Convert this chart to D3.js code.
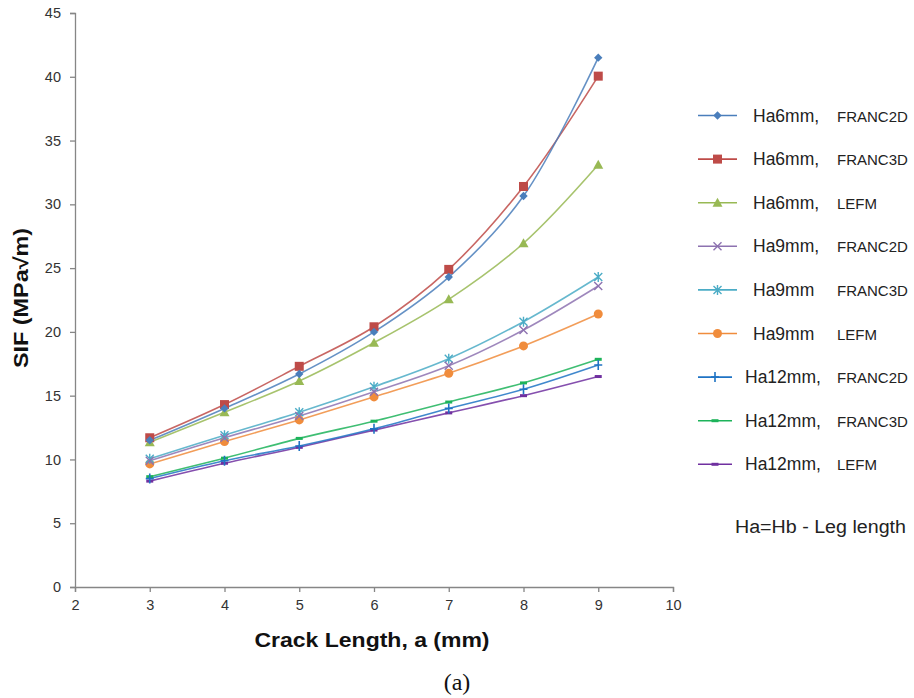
<!DOCTYPE html>
<html><head><meta charset="utf-8">
<script src="https://cdn.jsdelivr.net/npm/d3@7/dist/d3.min.js"></script>
<style>body{margin:0;background:#fff}svg{display:block}</style>
</head><body>
<svg id="c" width="914" height="698"></svg>
<script>
const crackLength = [3, 4, 5, 6, 7, 8, 9];
const ha6Franc2d = [11.5, 14.0, 16.7, 20.0, 24.3, 30.65, 41.5];
const ha6Franc3d = [11.7, 14.3, 17.3, 20.4, 24.9, 31.4, 40.05];
const ha6Lefm    = [11.35, 13.7, 16.15, 19.15, 22.55, 26.95, 33.1];
const ha9Franc2d = [9.9, 11.7, 13.4, 15.3, 17.35, 20.15, 23.6];
const ha9Franc3d = [10.05, 11.9, 13.7, 15.7, 17.9, 20.8, 24.3];
const ha9Lefm    = [9.65, 11.4, 13.1, 14.9, 16.75, 18.9, 21.4];
const ha12Franc2d = [8.5, 9.9, 11.05, 12.4, 14.0, 15.5, 17.4];
const ha12Franc3d = [8.65, 10.1, 11.65, 13.0, 14.5, 16.0, 17.85];
const ha12Lefm    = [8.3, 9.7, 10.95, 12.3, 13.65, 15.0, 16.5];
const xTicks = [2, 3, 4, 5, 6, 7, 8, 9, 10];
const yTicks = [0, 5, 10, 15, 20, 25, 30, 35, 40, 45];
const seriesNames = ["Ha6mm,", "Ha6mm,", "Ha6mm,", "Ha9mm,", "Ha9mm", "Ha9mm", "Ha12mm,", "Ha12mm,", "Ha12mm,"];
const seriesMethods = ["FRANC2D", "FRANC3D", "LEFM", "FRANC2D", "FRANC3D", "LEFM", "FRANC2D", "FRANC3D", "LEFM"];

const series = [
  {values: ha6Franc2d, color: "#4A7EBB", marker: "diamond"},
  {values: ha6Franc3d, color: "#BE4B48", marker: "square"},
  {values: ha6Lefm,    color: "#98B954", marker: "triangle"},
  {values: ha9Franc2d, color: "#8D72B0", marker: "x"},
  {values: ha9Franc3d, color: "#4BACC6", marker: "star"},
  {values: ha9Lefm,    color: "#F08C3C", marker: "circle"},
  {values: ha12Franc2d, color: "#1F73C4", marker: "plus"},
  {values: ha12Franc3d, color: "#1DB35A", marker: "dash"},
  {values: ha12Lefm,    color: "#7030A0", marker: "dash"}
].map((s, i) => ({...s, name: seriesNames[i], method: seriesMethods[i]}));

const svg = d3.select("#c");
const x = d3.scaleLinear().domain([2, 10]).range([75, 673]);
const y = d3.scaleLinear().domain([0, 45]).range([587, 13]);
const font = "'Liberation Sans', Arial, sans-serif";
const axisColor = "#868686";

// axes
const xAxis = svg.append("g").attr("transform", "translate(0,587)")
  .call(d3.axisBottom(x).tickValues(xTicks).tickSize(5).tickPadding(8).tickFormat(d3.format("d")));
const yAxis = svg.append("g").attr("transform", "translate(75,0)")
  .call(d3.axisLeft(y).tickValues(yTicks).tickSize(5).tickPadding(9).tickFormat(d3.format("d")));
[xAxis, yAxis].forEach(a => {
  a.select(".domain").attr("stroke", axisColor).attr("stroke-width", 1.3);
  a.selectAll(".tick line").attr("stroke", axisColor).attr("stroke-width", 1.3);
  a.selectAll(".tick text").attr("fill", "#333").style("font-family", font).style("font-size", "14.5px");
});

// lines
const line = d3.line().x((d, i) => x(crackLength[i])).y(d => y(d)).curve(d3.curveCatmullRom.alpha(0.5));

function drawMarker(g, type, color, cx, cy, legend) {
  const s = legend ? 1 : 1;
  switch (type) {
    case "diamond":
      g.append("path").attr("d", d3.symbol().type(d3.symbolDiamond2).size(45)()).attr("transform", `translate(${cx},${cy})`).attr("fill", color);
      break;
    case "square":
      g.append("rect").attr("x", cx - 4.5).attr("y", cy - 4.5).attr("width", 9).attr("height", 9).attr("fill", color);
      break;
    case "triangle":
      g.append("path").attr("d", `M${cx},${cy-5}L${cx+5},${cy+4}L${cx-5},${cy+4}Z`).attr("fill", color);
      break;
    case "circle":
      g.append("circle").attr("cx", cx).attr("cy", cy).attr("r", 4.5).attr("fill", color);
      break;
    case "x":
      g.append("path").attr("d", `M${cx-4},${cy-4}L${cx+4},${cy+4}M${cx-4},${cy+4}L${cx+4},${cy-4}`).attr("stroke", color).attr("stroke-width", 1.4);
      break;
    case "star":
      g.append("path").attr("d", `M${cx-4},${cy-4}L${cx+4},${cy+4}M${cx-4},${cy+4}L${cx+4},${cy-4}M${cx},${cy-5}L${cx},${cy+5}`).attr("stroke", color).attr("stroke-width", 1.4);
      break;
    case "plus":
      g.append("path").attr("d", `M${cx-4},${cy}L${cx+4},${cy}M${cx},${cy-5}L${cx},${cy+5}`).attr("stroke", color).attr("stroke-width", 1.6);
      break;
    case "dash":
      g.append("path").attr("d", `M${cx-3.5},${cy}L${cx+3.5},${cy}`).attr("stroke", color).attr("stroke-width", 3);
      break;
  }
}

const plot = svg.append("g");
series.slice().reverse().forEach(s => {
  plot.append("path").datum(s.values).attr("d", line).attr("fill", "none")
    .attr("stroke", s.color).attr("stroke-width", 1.6).attr("stroke-opacity", 0.85);
});
series.slice().reverse().forEach(s => {
  const g = plot.append("g");
  s.values.forEach((v, i) => drawMarker(g, s.marker, s.color, x(crackLength[i]), y(v), false));
});

// legend
const leg = svg.append("g");
series.forEach((s, i) => {
  const ly = 115.5 + i * 43.6;
  const small = i >= 6;
  const x1 = 698, x2 = small ? 732 : 737;
  leg.append("line").attr("x1", x1).attr("x2", x2).attr("y1", ly).attr("y2", ly)
    .attr("stroke", s.color).attr("stroke-width", 1.6);
  drawMarker(leg, s.marker, s.color, (x1 + x2) / 2, ly, true);
  leg.append("text").attr("x", small ? 745 : 753).attr("y", ly + 6)
    .style("font-family", font).style("font-size", "17.5px").attr("fill", "#222").text(s.name);
  leg.append("text").attr("x", 837).attr("y", ly + 6)
    .style("font-family", font).style("font-size", "15px").attr("fill", "#222").text(s.method);
});
svg.append("text").attr("x", 735).attr("y", 533)
  .style("font-family", font).style("font-size", "18px").attr("fill", "#222")
  .attr("textLength", 171).attr("lengthAdjust", "spacingAndGlyphs").text("Ha=Hb - Leg length");

// axis titles
svg.append("text").attr("x", 372).attr("y", 647).attr("text-anchor", "middle")
  .style("font-family", font).style("font-size", "20px").style("font-weight", "bold").attr("fill", "#111")
  .attr("textLength", 235).attr("lengthAdjust", "spacingAndGlyphs").text("Crack Length, a (mm)");
svg.append("text").attr("transform", "translate(28,298) rotate(-90)").attr("text-anchor", "middle")
  .style("font-family", font).style("font-size", "20px").style("font-weight", "bold").attr("fill", "#111")
  .attr("textLength", 140).attr("lengthAdjust", "spacingAndGlyphs").text("SIF (MPa√m)");
svg.append("text").attr("x", 457).attr("y", 690).attr("text-anchor", "middle")
  .style("font-family", "'Liberation Serif', 'Times New Roman', serif").style("font-size", "24px").attr("fill", "#111").text("(a)");
</script>
</body></html>
